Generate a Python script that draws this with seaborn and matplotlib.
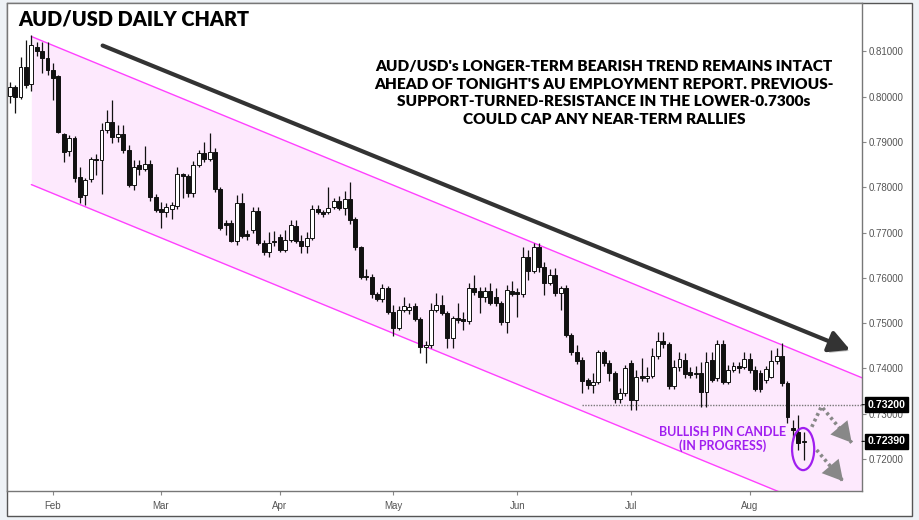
import numpy as np
import pandas as pd
import matplotlib
matplotlib.use("Agg")
import matplotlib.pyplot as plt
import matplotlib.patheffects as pe
from matplotlib.patches import Ellipse, Rectangle
import seaborn as sns

# -----------------------------------------------------------------------------
# Data: AUD/USD daily candles, 22 Jan 2018 -> 15 Aug 2018
# -----------------------------------------------------------------------------
dates = pd.bdate_range("2018-01-22", "2018-08-15")

opens = [0.8002, 0.8022, 0.8000, 0.8066, 0.8028, 0.8110, 0.8100, 0.8086, 0.8060, 0.8045,
         0.7918, 0.7880, 0.7909, 0.7823, 0.7783, 0.7818, 0.7863, 0.7861, 0.7927, 0.7945,
         0.7912, 0.7918, 0.7883, 0.7805, 0.7850, 0.7840, 0.7852, 0.7779, 0.7752, 0.7746,
         0.7752, 0.7758, 0.7830, 0.7825, 0.7788, 0.7850, 0.7876, 0.7863, 0.7878, 0.7796,
         0.7722, 0.7722, 0.7682, 0.7765, 0.7696, 0.7706, 0.7748, 0.7678, 0.7658, 0.7681,
         0.7690, 0.7662, 0.7684, 0.7715, 0.7682, 0.7671, 0.7687, 0.7753, 0.7746, 0.7746,
         0.7757, 0.7770, 0.7755, 0.7775, 0.7730, 0.7668, 0.7604, 0.7602, 0.7564, 0.7553,
         0.7577, 0.7525, 0.7489, 0.7529, 0.7530, 0.7538, 0.7510, 0.7447, 0.7451, 0.7529,
         0.7540, 0.7522, 0.7467, 0.7511, 0.7510, 0.7504, 0.7577, 0.7570, 0.7557, 0.7570,
         0.7557, 0.7544, 0.7502, 0.7570, 0.7568, 0.7564, 0.7646, 0.7615, 0.7668, 0.7624,
         0.7589, 0.7606, 0.7566, 0.7577, 0.7474, 0.7436, 0.7418, 0.7375, 0.7364, 0.7370,
         0.7436, 0.7412, 0.7390, 0.7333, 0.7346, 0.7412, 0.7331, 0.7383, 0.7379, 0.7384,
         0.7427, 0.7460, 0.7453, 0.7361, 0.7403, 0.7419, 0.7392, 0.7388, 0.7391, 0.7347,
         0.7419, 0.7378, 0.7454, 0.7371, 0.7397, 0.7405, 0.7403, 0.7421, 0.7397, 0.7390,
         0.7375, 0.7381, 0.7416, 0.7427, 0.7368, 0.7268, 0.7260, 0.7237]
highs = [0.8033, 0.8026, 0.8088, 0.8126, 0.8137, 0.8120, 0.8120, 0.8120, 0.8075, 0.8049,
         0.7920, 0.7916, 0.7913, 0.7845, 0.7821, 0.7867, 0.7874, 0.7942, 0.7971, 0.7993,
         0.7938, 0.7938, 0.7894, 0.7861, 0.7861, 0.7892, 0.7860, 0.7785, 0.7768, 0.7765,
         0.7768, 0.7845, 0.7832, 0.7830, 0.7857, 0.7883, 0.7900, 0.7920, 0.7887, 0.7800,
         0.7728, 0.7728, 0.7783, 0.7787, 0.7705, 0.7757, 0.7757, 0.7683, 0.7702, 0.7704,
         0.7697, 0.7706, 0.7728, 0.7728, 0.7694, 0.7702, 0.7760, 0.7760, 0.7750, 0.7800,
         0.7777, 0.7780, 0.7792, 0.7812, 0.7735, 0.7670, 0.7620, 0.7608, 0.7568, 0.7586,
         0.7582, 0.7540, 0.7538, 0.7558, 0.7545, 0.7545, 0.7514, 0.7460, 0.7545, 0.7567,
         0.7562, 0.7527, 0.7515, 0.7545, 0.7525, 0.7588, 0.7606, 0.7579, 0.7579, 0.7588,
         0.7577, 0.7548, 0.7585, 0.7592, 0.7578, 0.7668, 0.7662, 0.7677, 0.7677, 0.7635,
         0.7620, 0.7622, 0.7582, 0.7584, 0.7478, 0.7451, 0.7425, 0.7380, 0.7390, 0.7441,
         0.7441, 0.7419, 0.7395, 0.7357, 0.7408, 0.7419, 0.7397, 0.7423, 0.7403, 0.7445,
         0.7480, 0.7480, 0.7458, 0.7419, 0.7436, 0.7434, 0.7403, 0.7405, 0.7414, 0.7436,
         0.7436, 0.7463, 0.7463, 0.7408, 0.7414, 0.7414, 0.7436, 0.7434, 0.7405, 0.7397,
         0.7405, 0.7441, 0.7445, 0.7456, 0.7372, 0.7287, 0.7297, 0.7260]
lows = [0.7987, 0.7965, 0.7995, 0.8020, 0.8012, 0.8090, 0.8053, 0.8049, 0.7993, 0.7920,
        0.7856, 0.7870, 0.7812, 0.7766, 0.7761, 0.7812, 0.7827, 0.7785, 0.7920, 0.7898,
        0.7900, 0.7875, 0.7800, 0.7794, 0.7828, 0.7835, 0.7770, 0.7745, 0.7710, 0.7735,
        0.7730, 0.7752, 0.7776, 0.7778, 0.7778, 0.7845, 0.7855, 0.7858, 0.7790, 0.7705,
        0.7695, 0.7680, 0.7673, 0.7688, 0.7684, 0.7700, 0.7672, 0.7650, 0.7646, 0.7670,
        0.7657, 0.7657, 0.7680, 0.7678, 0.7655, 0.7655, 0.7683, 0.7740, 0.7735, 0.7740,
        0.7752, 0.7750, 0.7738, 0.7720, 0.7662, 0.7598, 0.7596, 0.7555, 0.7548, 0.7546,
        0.7520, 0.7472, 0.7484, 0.7525, 0.7520, 0.7505, 0.7434, 0.7412, 0.7445, 0.7524,
        0.7518, 0.7445, 0.7445, 0.7500, 0.7485, 0.7498, 0.7562, 0.7522, 0.7547, 0.7540,
        0.7538, 0.7495, 0.7478, 0.7560, 0.7514, 0.7558, 0.7596, 0.7610, 0.7613, 0.7562,
        0.7585, 0.7560, 0.7529, 0.7470, 0.7430, 0.7410, 0.7346, 0.7355, 0.7346, 0.7365,
        0.7405, 0.7372, 0.7324, 0.7324, 0.7340, 0.7309, 0.7309, 0.7372, 0.7370, 0.7378,
        0.7420, 0.7445, 0.7355, 0.7355, 0.7395, 0.7380, 0.7378, 0.7380, 0.7315, 0.7315,
        0.7370, 0.7372, 0.7366, 0.7366, 0.7392, 0.7390, 0.7398, 0.7390, 0.7350, 0.7348,
        0.7368, 0.7378, 0.7410, 0.7362, 0.7280, 0.7242, 0.7220, 0.7198]
closes = [0.8022, 0.8000, 0.8066, 0.8026, 0.8115, 0.8100, 0.8086, 0.8060, 0.8042, 0.7922,
          0.7878, 0.7909, 0.7821, 0.7779, 0.7816, 0.7863, 0.7861, 0.7927, 0.7945, 0.7912,
          0.7918, 0.7883, 0.7805, 0.7845, 0.7840, 0.7852, 0.7779, 0.7750, 0.7746, 0.7756,
          0.7760, 0.7830, 0.7825, 0.7788, 0.7850, 0.7876, 0.7863, 0.7878, 0.7796, 0.7710,
          0.7717, 0.7682, 0.7765, 0.7692, 0.7692, 0.7748, 0.7678, 0.7658, 0.7678, 0.7679,
          0.7662, 0.7684, 0.7717, 0.7682, 0.7671, 0.7687, 0.7753, 0.7746, 0.7742, 0.7755,
          0.7770, 0.7755, 0.7775, 0.7728, 0.7668, 0.7602, 0.7602, 0.7564, 0.7553, 0.7577,
          0.7525, 0.7489, 0.7529, 0.7538, 0.7536, 0.7510, 0.7447, 0.7451, 0.7529, 0.7540,
          0.7522, 0.7467, 0.7511, 0.7507, 0.7504, 0.7577, 0.7568, 0.7557, 0.7570, 0.7544,
          0.7544, 0.7502, 0.7574, 0.7565, 0.7564, 0.7646, 0.7615, 0.7668, 0.7624, 0.7589,
          0.7606, 0.7566, 0.7577, 0.7474, 0.7436, 0.7416, 0.7372, 0.7364, 0.7370, 0.7436,
          0.7412, 0.7390, 0.7333, 0.7346, 0.7401, 0.7331, 0.7381, 0.7379, 0.7384, 0.7427,
          0.7460, 0.7453, 0.7361, 0.7403, 0.7421, 0.7388, 0.7386, 0.7391, 0.7347, 0.7414,
          0.7375, 0.7454, 0.7371, 0.7397, 0.7405, 0.7400, 0.7421, 0.7397, 0.7355, 0.7355,
          0.7399, 0.7416, 0.7427, 0.7368, 0.7293, 0.7264, 0.7235, 0.7239]

price_ticks = [0.72, 0.73, 0.74, 0.75, 0.76, 0.77, 0.78, 0.79, 0.80, 0.81]
resistance = 0.7320
last_close = 0.7239

# descending channel (anchored at the Jan-26 high, slope in price per bar)
chan_anchor = 4
chan_upper = 0.8133
chan_lower = 0.7806
chan_slope = -0.00049

title = "AUD/USD DAILY CHART"
note = ("AUD/USD's LONGER-TERM BEARISH TREND REMAINS INTACT\n"
        "AHEAD OF TONIGHT'S AU EMPLOYMENT REPORT. PREVIOUS-\n"
        "SUPPORT-TURNED-RESISTANCE IN THE LOWER-0.7300s\n"
        "COULD CAP ANY NEAR-TERM RALLIES")
pin_note = "BULLISH PIN CANDLE\n(IN PROGRESS)"

# -----------------------------------------------------------------------------
# Styling
# -----------------------------------------------------------------------------
sns.set_theme(style="white")
plt.rcParams["font.family"] = ["Lato", "DejaVu Sans"]

W, H = 919, 520
fig = plt.figure(figsize=(W / 100, H / 100), dpi=100)
fig.patch.set_facecolor("#EEF2F6")
panel = Rectangle((6.5 / W, 1 - 516 / H), (912 - 6.5) / W, (516 - 2.7) / H,
                  transform=fig.transFigure, facecolor="white",
                  edgecolor="#555555", linewidth=1, zorder=-10)
fig.patches.append(panel)

ax = fig.add_axes([6.5 / W, 1 - 491 / H, (862 - 6.5) / W, (491 - 2.7) / H])
ax.set_facecolor("white")

df = pd.DataFrame({"date": dates, "open": opens, "high": highs, "low": lows, "close": closes})
df["i"] = np.arange(len(df))

# channel
cx = np.array([chan_anchor, 165.0])
up_line = chan_upper + chan_slope * (cx - chan_anchor)
lo_line = chan_lower + chan_slope * (cx - chan_anchor)
ax.fill_between(cx, lo_line, up_line, color="#FDE9FD", zorder=1, linewidth=0)
chan = pd.DataFrame({"x": np.r_[cx, cx], "y": np.r_[up_line, lo_line],
                     "side": ["upper", "upper", "lower", "lower"]})
sns.lineplot(data=chan, x="x", y="y", units="side", estimator=None, color="#FF40FF",
             linewidth=1.0, ax=ax, zorder=2, legend=False)

# resistance dotted line
first_res = 106
ax.plot([first_res, 170], [resistance, resistance], color="#777777", linestyle=(0, (1, 1)),
        linewidth=1, zorder=2)

# candles
bull = df["close"] >= df["open"]
ax.vlines(df["i"], df["low"], df["high"], color="#111111", linewidth=0.9, zorder=3)
body_lo = np.minimum(df["open"], df["close"])
body_h = np.maximum((df["close"] - df["open"]).abs(), 0.00025)
ax.bar(df["i"], body_h, bottom=body_lo, width=0.72,
       color=np.where(bull, "white", "#111111"), edgecolor="#111111", linewidth=0.7, zorder=4)

ax.set_xlim(-0.6, 157.8)
ax.set_ylim(0.71294, 0.82076)
ax.set_xlabel("")
ax.set_ylabel("")

# axes / ticks
month_start = df.groupby(df["date"].dt.to_period("M"))["i"].min().iloc[1:]
ax.set_xticks(month_start.values)
ax.set_xticklabels([d.strftime("%b") for d in df.loc[month_start.values, "date"]])
ax.yaxis.tick_right()
ax.set_yticks(price_ticks)
ax.set_yticklabels([f"{p:.5f}" for p in price_ticks])
ax.tick_params(axis="both", which="major", length=3, width=0.8, color="#888888",
               labelsize=7, labelcolor="#555555", pad=2)
ax.tick_params(axis="x", bottom=True, pad=4)
ax.tick_params(axis="y", right=True, left=False)
for lab in ax.get_xticklabels() + ax.get_yticklabels():
    lab.set_family(["Liberation Sans", "DejaVu Sans"])
for sp in ax.spines.values():
    sp.set_color("#777777")
    sp.set_linewidth(1)
ax.grid(False)

# price tags
for val in (resistance, last_close):
    ax.annotate(f"{val:.5f}", xy=(1.0, val), xycoords=("axes fraction", "data"),
                xytext=(4, 0), textcoords="offset points", ha="left", va="center",
                fontsize=7.6, fontweight="bold", color="white", family="Liberation Sans",
                bbox=dict(boxstyle="square,pad=0.25", facecolor="black", edgecolor="black"),
                arrowprops=dict(arrowstyle="-", color="black", lw=0.8,
                                shrinkA=0, shrinkB=0),
                annotation_clip=False, zorder=10)

# big trend arrow
arr = ax.annotate("", xy=(155.6, 0.7441), xytext=(17.2, 0.8113),
                  arrowprops=dict(arrowstyle="-|>,head_length=1.05,head_width=0.55",
                                  color="#333333", lw=3.0, mutation_scale=12,
                                  shrinkA=0, shrinkB=0), zorder=6)
arr.arrow_patch.set_path_effects([pe.SimplePatchShadow(offset=(2, -2), alpha=0.25,
                                                       shadow_rgbFace="black"),
                                  pe.Normal()])

# dotted projection arrows
def dotted_arrow(xs, ys):
    ax.plot(xs, ys, color="#888888", linestyle=(0, (0.8, 0.9)), linewidth=2.6,
            zorder=6, solid_capstyle="butt")
    ax.annotate("", xy=(xs[-1], ys[-1]), xytext=(xs[-2], ys[-2]),
                arrowprops=dict(arrowstyle="-|>,head_length=0.9,head_width=0.5",
                                color="#888888", lw=0, mutation_scale=16,
                                shrinkA=0, shrinkB=0), zorder=6)

dotted_arrow([148.5, 150.3, 155.9], [0.7271, 0.7316, 0.7236])
dotted_arrow([149.4, 154.3], [0.7220, 0.7151])

# pin candle ring + note
ax.add_patch(Ellipse((146.9, 0.7222), 4.1, 0.0093, fill=False, edgecolor="#A01EF0",
                     linewidth=1.6, zorder=7))
fig.text(723 / W, 1 - 439 / H, pin_note, ha="center", va="center", fontsize=9.0,
         fontweight="bold", color="#A01EF0", linespacing=1.15)

# headline texts
fig.text(18 / W, 1 - 18.5 / H, title, ha="left", va="center", fontsize=14.3,
         fontweight="heavy", color="black")
fig.text(604 / W, 1 - 93 / H, note, ha="center", va="center", fontsize=11.1,
         fontweight="heavy", color="black", linespacing=1.45)

fig.savefig("out.png", dpi=100, facecolor=fig.get_facecolor())
